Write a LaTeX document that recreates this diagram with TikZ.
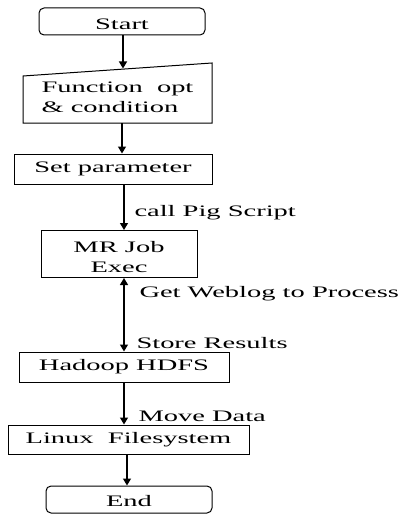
\documentclass[tikz,border=0pt]{standalone}
\usepackage{fontspec}
\setmainfont{Liberation Serif}[FakeStretch=1.78]
\usetikzlibrary{arrows.meta,calc}
% lower a label inside its box without changing the box size
\newcommand{\lowered}[2]{\raisebox{-#1}[\height][\depth]{#2}}
\begin{document}
\begin{tikzpicture}[x=1pt,y=-1pt,
  line width=1pt,
  txt/.style={font=\fontsize{16}{20}\selectfont, inner sep=0pt},
  boxnode/.style={draw, rectangle, txt, align=center},
  termnode/.style={boxnode, rounded corners=5pt},
  lbl/.style={txt, anchor=west},
  arr/.style={-{Triangle[length=7pt,width=8pt]}, line width=1.2pt},
  dbl/.style={{Triangle[length=7pt,width=8pt]}-{Triangle[length=7pt,width=8pt]}, line width=1.2pt}]
\useasboundingbox (0,0) rectangle (403,516);

% terminals and process boxes
\node[termnode, minimum width=166pt, minimum height=27pt] (start) at (122,21.5) {\lowered{2.5pt}{Start}};

% manual input (sloped top edge)
\coordinate (tl) at (23,76);
\coordinate (tr) at (212,63);
\coordinate (br) at (212,123);
\coordinate (bl) at (23,123);
\draw (tl) -- (tr) -- (br) -- (bl) -- cycle;
\node[txt, align=left, anchor=north west] (fn) at (41,81) {Function\ \ opt\\[0pt]\&\ condition};
\coordinate (fnin) at (123,68.5);
\coordinate (fnout) at (122,123);

\node[boxnode, minimum width=198pt, minimum height=30pt] (set) at (113,169) {Set parameter};
\node[boxnode, minimum width=156pt, minimum height=47pt] (mr) at (119,254) {\lowered{4pt}{\begin{tabular}{@{}c@{}}MR Job\\[0pt]Exec\end{tabular}}};
\node[boxnode, minimum width=210pt, minimum height=30pt] (hdfs) at (124,367) {Hadoop HDFS};
\node[boxnode, minimum width=241pt, minimum height=29pt] (linux) at (128.5,439.5) {Linux\ \ Filesystem};
\node[termnode, minimum width=166pt, minimum height=27pt] (end) at (129,499.5) {\lowered{2pt}{End}};

% connector labels
\node[lbl] (l1) at (134,213) {call\ Pig\ Script};
\node[lbl] (l2) at (139,294) {Get\ Weblog\ to\ Process};
\node[lbl] (l3) at (136,343) {Store\ Results};
\node[lbl] (l4) at (138,416) {Move\ Data};

% connectors
\draw[arr] (start.south -| fnin) -- (fnin);
\draw[arr] (fnout) -- (fnout |- set.north);
\draw[arr] (set.south -| 124,0) -- (mr.north -| 124,0);
\draw[dbl] (mr.south -| 124,0) -- (hdfs.north -| 124,0);
\draw[arr] (hdfs.south -| 124,0) -- (linux.north -| 124,0);
\draw[arr] (linux.south -| 127,0) -- (end.north -| 127,0);
\end{tikzpicture}
\end{document}
